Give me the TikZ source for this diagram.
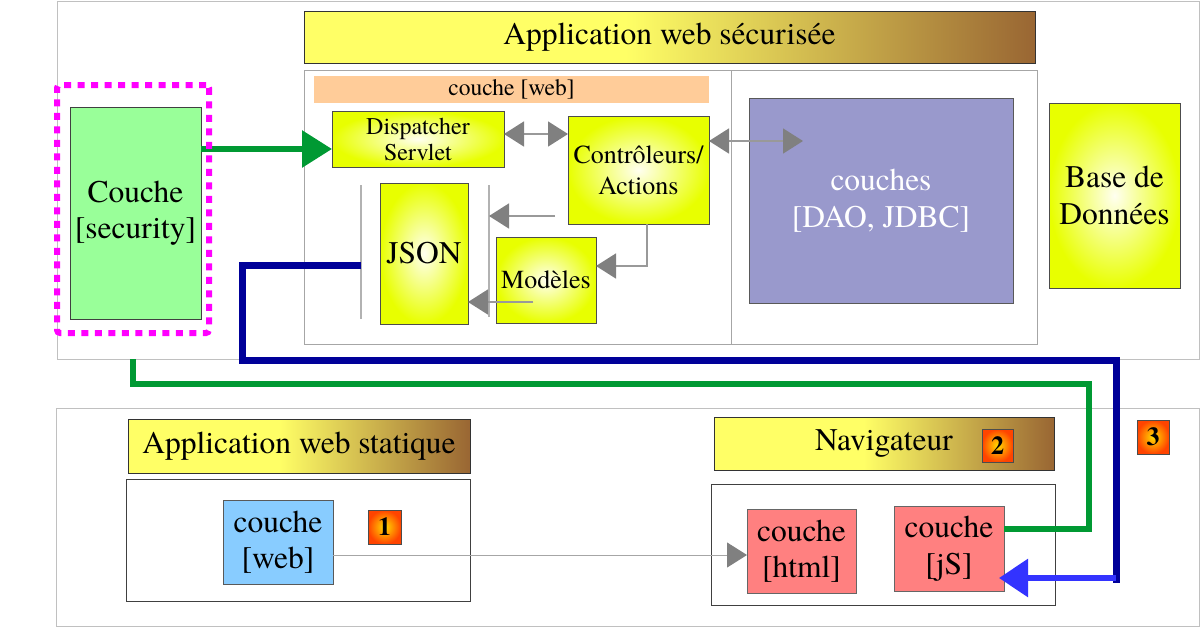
\documentclass[tikz,border=0pt]{standalone}
\usepackage{fontspec}
\setmainfont{texgyretermes}[Extension=.otf, UprightFont=*-regular, BoldFont=*-bold, ItalicFont=*-italic, BoldItalicFont=*-bolditalic]
\usetikzlibrary{arrows.meta}
\definecolor{tylw}{HTML}{FFFF66}
\definecolor{tbrn}{HTML}{996633}
\definecolor{byel}{HTML}{E8FF00}
\definecolor{bwht}{HTML}{FFFFF0}
\definecolor{grn}{HTML}{009933}
\definecolor{dnavy}{HTML}{000099}
\definecolor{lblue}{HTML}{3333FF}
\definecolor{secgreen}{HTML}{99FF99}
\definecolor{daoc}{HTML}{9999CC}
\definecolor{bandc}{HTML}{FFCC99}
\definecolor{webc}{HTML}{88CCFF}
\definecolor{redc}{HTML}{FF8080}
\definecolor{outl}{HTML}{C0C0C0}
\definecolor{arrg}{HTML}{808080}
\definecolor{mag}{HTML}{FF00FF}
\definecolor{bdgin}{HTML}{FFDD00}
\definecolor{bdgout}{HTML}{FF4400}
\pgfdeclarehorizontalshading{titleshade}{100bp}{color(0bp)=(tylw); color(25bp)=(tylw); color(47bp)=(tylw); color(75bp)=(tbrn); color(100bp)=(tbrn)}
\newcommand\bigf{\fontsize{31.5}{36.5}\selectfont}
\newcommand\bandf{\fontsize{23.5}{27}\selectfont}
\newcommand\dispf{\fontsize{24}{26}\selectfont}
\newcommand\ctrlf{\fontsize{26}{30.5}\selectfont}
\newcommand\bdgf{\fontsize{26}{28}\selectfont\bfseries}
\tikzset{
  bx/.style={rectangle, inner sep=0pt, outer sep=0pt, align=center, font=\bigf},
  sz/.style 2 args={minimum width=#1pt, minimum height=#2pt},
  frame/.style={bx, draw=outl, line width=1pt},
  darkframe/.style={bx, draw=black!75, line width=1pt},
  titlebox/.style={bx, draw=black!80, line width=1pt, shade, shading=titleshade},
  ybox/.style={bx, draw=black!70, line width=1pt, inner color=bwht, outer color=byel},
  badge/.style={bx, draw=black!70, line width=0.8pt, inner color=bdgin, outer color=bdgout, font=\bdgf},
  gline/.style={draw=black!30, line width=1.5pt},
  garrow/.style={draw=black!40, line width=1.5pt, -{Triangle[length=20pt,width=25pt,color=arrg]}},
  garrowb/.style={draw=black!40, line width=1.5pt, {Triangle[length=20pt,width=25pt,color=arrg]}-{Triangle[length=20pt,width=25pt,color=arrg]}},
  grnline/.style={draw=grn, line width=5.5pt},
  bluel/.style={draw=dnavy, line width=7pt},
}
\begin{document}
\begin{tikzpicture}[x=1pt,y=-1pt]
\useasboundingbox (0,0) rectangle (1200,632);
\fill[white] (0,0) rectangle (1200,632);
% frames
\node[frame, sz={1142}{358}] (topouter) at (628,180) {};
\node[frame, sz={1143}{218}] (botouter) at (627.5,517) {};
\node[titlebox, sz={731}{52}] (title1) at (669.5,37) {Application web sécurisée};
\node[frame, draw=black!35, sz={733}{274}] (webapp) at (670.5,207) {};
\draw[draw=black!35, line width=1pt] (731,70) -- (731,344);
\node[bx, fill=bandc, sz={395}{27}, font=\bandf] (band) at (511.5,89.5) {couche [web]};
% boxes
\node[ybox, sz={172}{56}, font=\dispf] (disp) at (418,139) {Dispatcher\\Servlet};
\node[ybox, sz={141}{108}, font=\ctrlf] (ctrl) at (638.5,170) {Contrôleurs/\\Actions};
\node[ybox, sz={88}{141}] (json) at (424,253.5) {JSON};
\node[ybox, sz={100}{86}, font=\ctrlf] (models) at (546,280) {Modèles};
\node[bx, fill=daoc, draw=black!65, line width=1pt, text=white, sz={264}{205}] (dao) at (881,200.5) {couches\\{}[DAO, JDBC]};
\node[ybox, sz={131}{185}] (db) at (1114.5,195.5) {Base de\\Données};
\node[bx, fill=secgreen, draw=black!75, line width=1pt, sz={131}{212}] (sec) at (135.5,213) {Couche\\{}[security]};
% bottom
\node[titlebox, sz={342}{54}] (title2) at (299,446) {Application web statique};
\node[darkframe, sz={344}{122}] (static) at (298,540) {};
\node[bx, fill=webc, draw=black!65, line width=1pt, sz={110}{84}] (cweb) at (278,542) {couche\\{}[web]};
\node[badge, sz={33}{34}] (b1) at (384.5,527) {1};
\node[titlebox, sz={340}{53}] (title3) at (884,443.5) {Navigateur};
\node[badge, sz={31}{33}] (b2) at (997.5,445.5) {2};
\node[darkframe, sz={344}{121}] (nav) at (883,544.5) {};
\node[bx, fill=redc, draw=black!60, line width=1pt, sz={109}{84}] (html) at (801.5,551) {couche\\{}[html]};
\node[bx, fill=redc, draw=black!60, line width=1pt, sz={110}{85}] (js) at (949,548.5) {couche\\{}[jS]};
\node[badge, sz={32}{34}] (b3) at (1153,437) {3};
% gray lines and arrows
\coordinate (v1t) at (361,185); \coordinate (v1b) at (361,319);
\coordinate (v2t) at (489,185); \coordinate (v2b) at (489,317);
\draw[gline] (v1t) -- (v1b);
\draw[gline] (v2t) -- (v2b);
\coordinate (d1) at ([yshift=5pt]disp.east);
\draw[garrowb] (d1) -- (d1 -| ctrl.west);
\coordinate (c1) at ([yshift=29pt]ctrl.east);
\coordinate (daoin) at (803,141);
\draw[garrowb] (c1) -- (daoin);
\coordinate (c2) at (555,216);
\draw[garrow] (c2) -- (c2 -| v2t);
\coordinate (c3) at ([xshift=8.5pt]ctrl.south);
\coordinate (m1) at ([yshift=14pt]models.east);
\draw[garrow] (c3) |- (m1);
\coordinate (m2) at (533,302);
\draw[garrow] (m2) -- (m2 -| json.east);
\coordinate (w1) at ([yshift=-13pt]cweb.east);
\draw[garrow, draw=black!35, line width=1pt] (w1) -- (w1 -| html.west);
% green
\coordinate (g1) at ([yshift=64pt]sec.east);
\draw[grnline, line width=6pt, -{Triangle[length=30pt,width=36pt]}] (g1) -- (g1 -| disp.west);
\coordinate (g2) at (133,359);
\coordinate (g3) at (1089,384);
\coordinate (g4) at ([yshift=19.5pt]js.east);
\draw[grnline] (g2) |- (g3) |- (g4);
% blue
\coordinate (bl1) at (361,265);
\coordinate (bl2) at (242,360);
\coordinate (bl3) at (1116,583);
\draw[bluel] (bl1) -| (bl2) -| (bl3);
\coordinate (bl4) at (1116,578);
\draw[draw=lblue, line width=6pt, shorten >=-5pt, -{Triangle[length=29pt,width=37pt]}] (bl4) -- (bl4 -| js.east);
% magenta dotted
\node[bx, draw=mag, line width=6pt, dash pattern=on 7pt off 6.5pt, rounded corners=3pt, sz={152}{248}] (secz) at (133,209) {};
\end{tikzpicture}
\end{document}
